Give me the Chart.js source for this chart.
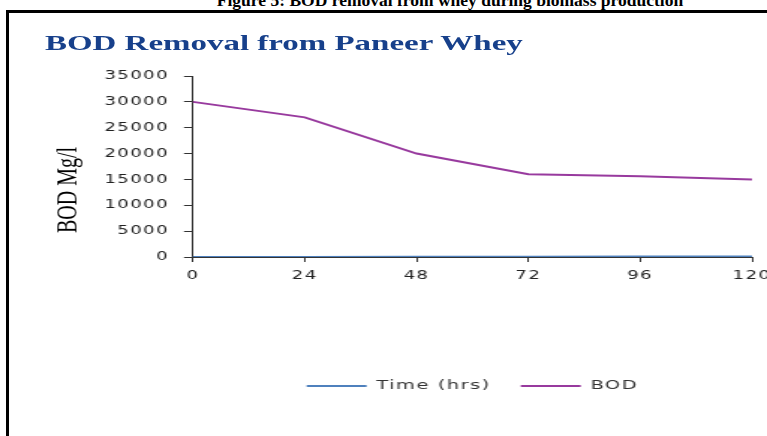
<!DOCTYPE html>
<html>
<head>
<meta charset="utf-8">
<script src="https://cdn.jsdelivr.net/npm/chart.js@4"></script>
<style>
    html, body { margin: 0; padding: 0; background: #fff; overflow: hidden; }
    body { width: 767px; height: 436px; position: relative; }
    #caption {
        position: absolute; left: 0; top: -10px; width: 900px; text-align: center;
        font: bold 17.5px 'Liberation Serif', serif; color: #000; white-space: nowrap;
    }
    #frame {
        position: absolute; left: 6px; top: 10px; width: 900px; height: 600px;
        border-left: 3px solid #000; border-top: 3px solid #000;
    }
    /* the original chart is stretched sideways, so draw narrow and scale */
    #stretch {
        position: absolute; left: 0; top: 0; width: 512px; height: 436px;
        transform-origin: 0 0; transform: scaleX(1.498);
    }
    #chartTitle {
        position: absolute; left: 30px; top: 32px; white-space: nowrap;
        font: bold 22px 'Liberation Serif', serif; line-height: 22px; color: #17408b;
    }
    #yTitle {
        position: absolute; left: -15.5px; top: 178px; width: 120px; height: 24px;
        line-height: 24px; text-align: center; white-space: nowrap;
        font: 20px 'Liberation Serif', serif; color: #000;
        transform: rotate(-90deg);
    }
    canvas { position: absolute; left: 0; top: 0; }
</style>
</head>
<body>
<div id="caption">Figure 5: BOD removal from whey during biomass production</div>
<div id="frame"></div>
<div id="stretch">
    <canvas id="bodChart" width="512" height="436"></canvas>
    <div id="chartTitle">BOD Removal from Paneer Whey</div>
    <div id="yTitle">BOD Mg/l</div>
</div>
<script>
const hourLabels = ['0', '24', '48', '72', '96', '120'];
const timeValues = [0, 24, 48, 72, 96, 120];
const bodValues = [30000, 27000, 20000, 16000, 15600, 15000];
const yTicksMax = 35000;
const yTicksStep = 5000;

const tickFont = { family: "'DejaVu Sans', sans-serif", size: 12 };

// wide spaced lettering like the Excel original
const letterSpacingPlugin = {
    id: 'letterSpacing',
    beforeUpdate: function(chart) { chart.ctx.letterSpacing = '1px'; },
    beforeLayout: function(chart) { chart.ctx.letterSpacing = '1px'; },
    beforeDraw: function(chart) { chart.ctx.letterSpacing = '1px'; }
};

const ctx = document.getElementById('bodChart').getContext('2d');

const bodChart = new Chart(ctx, {
    type: 'line',
    data: {
        labels: hourLabels,
        datasets: [{
            label: 'Time (hrs)',
            data: timeValues,
            borderColor: '#4f81bd',
            backgroundColor: '#4f81bd',
            borderWidth: 2,
            pointRadius: 0,
            tension: 0
        }, {
            label: 'BOD',
            data: bodValues,
            borderColor: '#983a9e',
            backgroundColor: '#983a9e',
            borderWidth: 2,
            pointRadius: 0,
            tension: 0
        }]
    },
    options: {
        responsive: false,
        animation: false,
        layout: { padding: { top: 76, right: 10, left: 0, bottom: 33.5 } },
        plugins: {
            legend: {
                position: 'bottom',
                fullSize: false,
                labels: {
                    boxWidth: 40,
                    boxHeight: 0,
                    padding: 20,
                    color: '#333',
                    font: { family: "'DejaVu Sans', sans-serif", size: 13 }
                }
            },
            tooltip: { enabled: false }
        },
        scales: {
            x: {
                grid: {
                    drawOnChartArea: false,
                    drawTicks: true,
                    tickLength: 5,
                    color: '#333'
                },
                border: { display: true, color: '#333', width: 1 },
                ticks: { color: '#222', font: tickFont, padding: 7, maxRotation: 0 },
                afterFit: function(scale) {
                    scale.height = 102.5;
                    scale.paddingLeft = 0;
                    scale.paddingRight = 0;
                }
            },
            y: {
                min: 0,
                max: yTicksMax,
                grid: {
                    drawOnChartArea: false,
                    drawTicks: true,
                    tickLength: 6,
                    color: '#333'
                },
                border: { display: true, color: '#333', width: 1 },
                ticks: {
                    stepSize: yTicksStep,
                    color: '#222',
                    font: tickFont,
                    padding: 10,
                    format: { useGrouping: false }
                },
                afterFit: function(scale) {
                    scale.width = 128.8;
                }
            }
        }
    },
    plugins: [letterSpacingPlugin]
});
</script>
</body>
</html>
